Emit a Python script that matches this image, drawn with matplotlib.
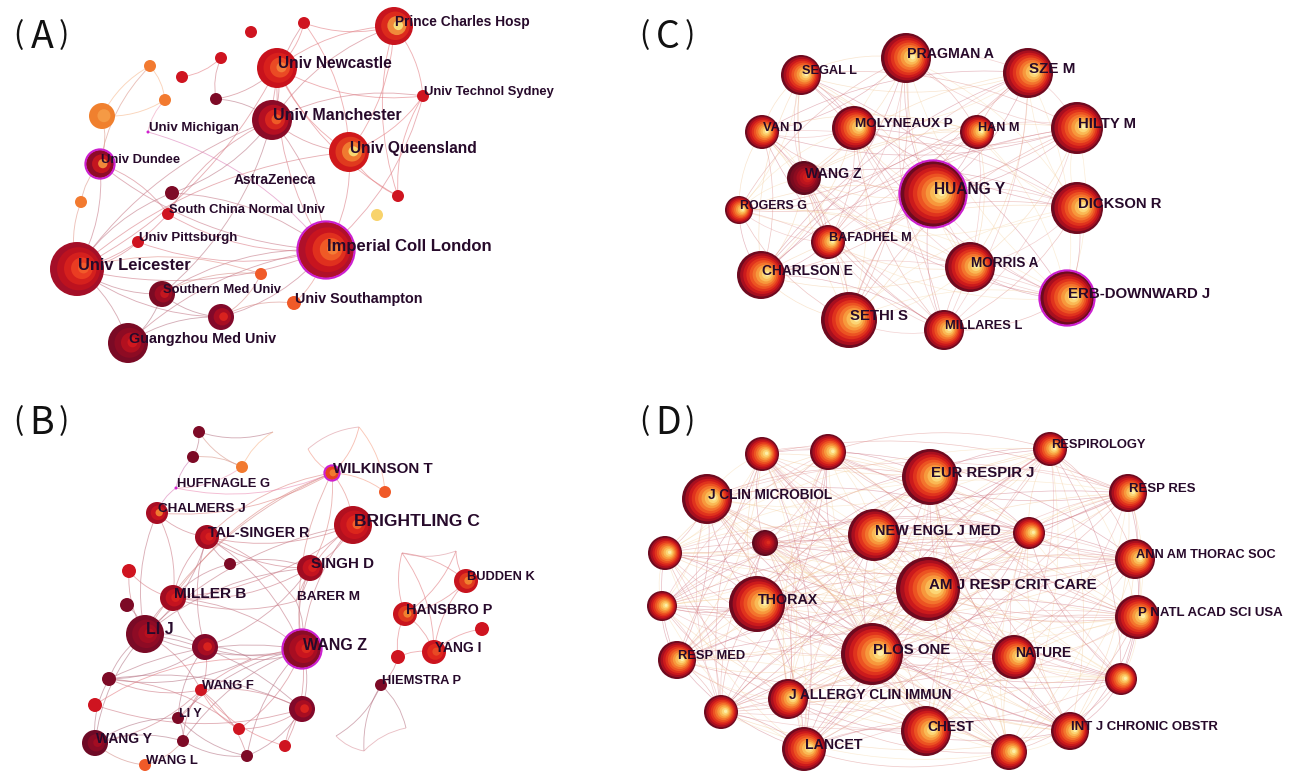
import numpy as np
import matplotlib.pyplot as plt
from matplotlib.patches import Circle, PathPatch
from matplotlib.path import Path
from matplotlib.colors import to_rgb

# ---------------- (A) institutions ----------------
a_names = ['Prince Charles Hosp', '', '', 'Univ Newcastle', '', '', '', '', '', '',
           'Univ Technol Sydney', 'Univ Manchester', 'Univ Michigan', 'Univ Queensland', 'Univ Dundee',
           'AstraZeneca', '', '', '', 'South China Normal Univ',
           '', 'Univ Pittsburgh', 'Imperial Coll London', 'Univ Leicester', '', 'Southern Med Univ',
           'Univ Southampton', '', 'Guangzhou Med Univ']
a_x = [394, 304, 251, 277, 221, 182, 150, 165, 102, 216, 423, 272, 148, 349, 100, 233, 172, 398, 81, 168,
       377, 138, 326, 77, 261, 162, 294, 221, 128]
a_y = [26, 23, 32, 68, 58, 77, 66, 100, 116, 99, 96, 120, 132, 152, 164, 184, 193, 196, 202, 214,
       215, 242, 250, 269, 274, 294, 303, 317, 343]
a_r = [19, 6, 6, 20, 6, 6, 6, 6, 13, 6, 6, 20, 1.5, 20, 14, 0, 7, 6, 6, 6,
       6, 6, 28, 27, 6, 13, 7, 13, 20]
a_fs = [9.9, 0, 0, 11.2, 0, 0, 0, 0, 0, 0, 9.4, 11.5, 9.5, 11.2, 9.4, 9.9, 0, 0, 0, 9.4,
        0, 9.5, 12.0, 11.9, 0, 9.4, 10.4, 0, 10.4]
a_kind = ['pch', 'r', 'r', 'ncl', 'r', 'r', 'o', 'o', 'ob', 'dk', 'r', 'man', 'mg', 'qld', 'dun', 'none',
          'dk', 'r', 'o', 'r', 'y', 'r', 'imp', 'lei', 'o2', 'smu', 'o2', 'dkb', 'gmu']
a_purple = ['Univ Dundee', 'Imperial Coll London']
a_edges = [(0, 1), (0, 3), (0, 10), (0, 11), (0, 13), (0, 17), (1, 3), (1, 11), (1, 13),
           (3, 10), (3, 11), (3, 13), (3, 9), (3, 22), (3, 23), (3, 17), (4, 5), (4, 9),
           (6, 7), (6, 8), (7, 8), (6, 14), (8, 14), (7, 12), (9, 11),
           (10, 11), (10, 13), (10, 17), (10, 22), (11, 13), (11, 22), (11, 23), (11, 16),
           (11, 19), (11, 25), (13, 17), (13, 22), (13, 23), (14, 23), (14, 18), (14, 19),
           (14, 22), (16, 22), (16, 23), (19, 23), (19, 22), (21, 23), (21, 22), (22, 23),
           (22, 25), (22, 26), (22, 28), (22, 27), (23, 25), (23, 28), (23, 27), (23, 18),
           (24, 25), (24, 27), (24, 23), (25, 28), (25, 27), (27, 26), (27, 28), (12, 22)]

# ---------------- (B) authors ----------------
b_names = ['', '', '', 'HUFFNAGLE G', 'WILKINSON T', '', 'CHALMERS J', 'BRIGHTLING C', 'TAL-SINGER R', '',
           'SINGH D', '', 'BUDDEN K', 'MILLER B', 'BARER M', '', 'HANSBRO P', '', 'LI J', '',
           'WANG Z', 'YANG I', '', '', 'HIEMSTRA P', 'WANG F', '', '', 'LI Y', '',
           'WANG Y', '', '', '', 'WANG L', '', '', '', '', '',
           '', '', '', '']
b_x = [199, 193, 242, 176, 332, 385, 157, 353, 207, 230, 310, 129, 466, 173, 296, 127, 405, 482, 145, 205,
       302, 434, 398, 109, 381, 201, 95, 302, 178, 239, 95, 183, 285, 247, 145, 273, 359, 308, 456, 402,
       336, 364, 406, 251]
b_y = [432, 457, 467, 488, 473, 492, 513, 525, 537, 564, 568, 571, 581, 598, 601, 605, 614, 629, 634, 647,
       649, 652, 657, 679, 685, 690, 705, 709, 718, 729, 743, 741, 746, 756, 765, 432, 427, 449, 551, 553,
       736, 751, 728, 659]
b_r = [6, 6, 6, 1.5, 7, 6, 11, 19, 12, 6, 13, 7, 12, 13, 0, 7, 12, 7, 19, 13,
       19, 12, 7, 7, 6, 6, 7, 13, 6, 6, 13, 6, 6, 6, 6, 0, 0, 0, 0, 0,
       0, 0, 0, 0]
b_fs = [0, 0, 0, 9.3, 10.9, 0, 9.7, 12.6, 10.4, 0, 10.9, 0, 9.3, 11.1, 9.7, 0, 10.4, 0, 11.5, 0,
        11.5, 10.0, 0, 0, 9.3, 9.4, 0, 0, 9.0, 0, 10.0, 0, 0, 0, 9.4, 0, 0, 0, 0, 0,
        0, 0, 0, 0]
b_kind = ['dk', 'dk', 'o', 'mg', 'wk', 'o2', 'chl', 'brc', 'dr', 'dk', 'dr', 'r', 'hns', 'dr', 'none', 'dk',
          'hns', 'r', 'lij', 'dkb', 'wz', 'yng', 'r', 'dk', 'dk', 'r', 'r', 'dkb', 'dk', 'r',
          'wy', 'dk', 'r', 'dk', 'o2', 'none', 'none', 'none', 'none', 'none', 'none', 'none', 'none', 'none']
b_purple = ['WILKINSON T', 'WANG Z']
b_edges = [(0, 1), (0, 2), (1, 2), (0, 35), (2, 35), (1, 3), (2, 3),
           (4, 36), (4, 37), (36, 37), (4, 5), (5, 36), (4, 7), (4, 8), (4, 10), (4, 20), (4, 6), (4, 13),
           (4, 3), (4, 18), (7, 10), (7, 20), (7, 8), (7, 14), (7, 13), (7, 18),
           (8, 6), (8, 13), (8, 18), (8, 10), (8, 20), (8, 9), (8, 14), (8, 19), (6, 13), (6, 18), (6, 3),
           (10, 20), (10, 13), (10, 18), (10, 14), (10, 9), (10, 19),
           (13, 18), (13, 20), (13, 14), (13, 11), (13, 19), (13, 9), (11, 18), (15, 18),
           (18, 20), (18, 19), (18, 23), (18, 25), (18, 30), (18, 27),
           (20, 14), (20, 19), (20, 25), (20, 27), (20, 28), (20, 29), (20, 31), (20, 32), (20, 33),
           (20, 43), (20, 23), (19, 25), (19, 28), (19, 43), (23, 25), (23, 27), (23, 43), (23, 29),
           (23, 19), (25, 28), (25, 31), (25, 33), (25, 29), (25, 27), (25, 32), (25, 30),
           (26, 27), (26, 43), (28, 30), (28, 31), (28, 33), (30, 31), (30, 34), (30, 23),
           (31, 33), (31, 34), (33, 27), (32, 27), (29, 27),
           (12, 16), (12, 21), (12, 38), (12, 39), (16, 21), (16, 38), (16, 39), (16, 22), (21, 17),
           (21, 22), (38, 39), (21, 39), (24, 40), (24, 41), (24, 42), (40, 41), (41, 42), (24, 22)]

# ---------------- (C) co-cited authors ----------------
c_names = ['PRAGMAN A', 'SZE M', 'SEGAL L', 'VAN D', 'MOLYNEAUX P', 'HAN M', 'HILTY M', 'WANG Z',
           'HUANG Y', 'DICKSON R', 'ROGERS G', 'BAFADHEL M', 'MORRIS A', 'CHARLSON E',
           'ERB-DOWNWARD J', 'SETHI S', 'MILLARES L']
c_x = [906, 1028, 801, 762, 854, 977, 1077, 804, 933, 1077, 739, 828, 970, 761, 1067, 849, 944]
c_y = [58, 73, 75, 132, 128, 132, 128, 178, 194, 208, 210, 242, 267, 275, 298, 320, 330]
c_r = [25, 25, 20, 17, 22, 17, 26, 17, 33, 26, 14, 17, 25, 24, 27, 28, 20]
c_fs = [10.2, 10.9, 9.2, 9.4, 9.7, 9.1, 10.7, 10.2, 11.2, 10.7, 8.9, 9.1, 9.8, 9.9, 10.8, 10.7, 9.3]
c_kind = ['g', 'g', 'g', 'g', 'g', 'g', 'g', 'gd', 'g', 'g', 'g', 'g', 'g', 'g', 'g', 'g', 'g']
c_purple = ['HUANG Y', 'ERB-DOWNWARD J']

# ---------------- (D) co-cited journals ----------------
d_names = ['', '', 'RESPIROLOGY', 'EUR RESPIR J', 'J CLIN MICROBIOL', 'RESP RES', 'NEW ENGL J MED', '', '',
           '', 'ANN AM THORAC SOC', 'AM J RESP CRIT CARE', 'THORAX', '', 'P NATL ACAD SCI USA',
           'PLOS ONE', 'NATURE', 'RESP MED', '', 'J ALLERGY CLIN IMMUN', '', 'CHEST',
           'INT J CHRONIC OBSTR', 'LANCET', '']
d_x = [762, 828, 1050, 930, 707, 1128, 874, 1029, 765, 665, 1135, 928, 757, 662, 1137, 872, 1014, 677,
       1121, 788, 721, 926, 1070, 804, 1009]
d_y = [454, 452, 449, 477, 499, 493, 535, 533, 543, 553, 559, 589, 604, 606, 617, 654, 657, 660,
       679, 699, 712, 731, 731, 749, 752]
d_r = [17, 18, 17, 28, 25, 19, 26, 16, 13, 17, 20, 32, 28, 15, 22, 31, 22, 19, 16, 20, 17, 25, 19, 22, 18]
d_fs = [0, 0, 9.3, 10.7, 9.8, 9.5, 10.4, 0, 0, 0, 9.2, 10.9, 10.3, 0, 9.5, 10.8, 9.9, 9.3, 0, 9.9,
        0, 10.0, 9.5, 10.2, 0]
d_kind = ['g', 'g', 'g', 'g', 'g', 'g', 'g', 'g', 'gd', 'g', 'g', 'g', 'g', 'g', 'g', 'g', 'g', 'g',
          'g', 'g', 'g', 'g', 'g', 'g', 'g']
d_purple = []

RINGS = {
    'r': ['#cf1420'], 'o': ['#f27a30'], 'o2': ['#f05a28'], 'y': ['#f8d36c'], 'dk': ['#7d0a26'],
    'mg': ['#d020d0'], 'none': [],
    'ob': ['#f0802e', '#f59a45'],
    'pch': ['#c8141e', '#dc2a1c', '#f08a3a', '#f8dc78'],
    'ncl': ['#c8121c', '#d8201c', '#ea4a24', '#f27a38'],
    'man': ['#8a0b27', '#b50f22', '#d8261e', '#ee5a26'],
    'qld': ['#d0181b', '#e03a1e', '#f07a30', '#f8d870'],
    'dun': ['#8e0b28', '#c4151f', '#f08a3a'],
    'imp': ['#b0102a', '#c8141f', '#e0301e', '#ef5a26', '#f47c36'],
    'lei': ['#a40f28', '#bd121f', '#d5201d', '#ea3c22', '#f25a2a'],
    'smu': ['#7c0b24', '#9e0c22', '#c4171f'],
    'dkb': ['#82092a', '#a80d22', '#d8221e'],
    'gmu': ['#7a0a25', '#8e0b23', '#b2101f', '#d0181e'],
    'wk': ['#e8401e', '#f07a30'],
    'chl': ['#a80d24', '#c8141f', '#f07a30'],
    'brc': ['#b2101f', '#c8141e', '#dc261c', '#f0602a'],
    'dr': ['#a00c22', '#c4131f', '#d8201e'],
    'hns': ['#c8141e', '#e03a1e', '#f0802e'],
    'lij': ['#7a0a26', '#8e0b25', '#a30d22', '#b8101f'],
    'wz': ['#8a0b27', '#a80d22', '#c8141f', '#dc2a1e'],
    'yng': ['#cc141e', '#e0281c', '#e84a24'],
    'wy': ['#6e0a26', '#8a0b25', '#a30d22'],
    'g': ['#6e0a1f', '#a80f1f', '#cc1a1c', '#e0331d', '#ec5322', '#f3742d', '#f7983c', '#fab955',
          '#fcd676', '#fdeea6'],
    'gd': ['#5e0a1e', '#7a0b20', '#8e0c20', '#a80f1f', '#bc141e', '#cc1c1c', '#dc2c1e'],
}

LABEL_FONT = ['Liberation Sans', 'DejaVu Sans']
TXT = '#270a2b'


def curve(ax, p, q, rad, color, lw, alpha):
    (x1, y1), (x2, y2) = p, q
    mx, my = (x1 + x2) / 2, (y1 + y2) / 2
    cx, cy = mx - rad * (y2 - y1), my + rad * (x2 - x1)
    path = Path([(x1, y1), (cx, cy), (x2, y2)], [Path.MOVETO, Path.CURVE3, Path.CURVE3])
    ax.add_patch(PathPatch(path, fc='none', ec=color, lw=lw, alpha=alpha, zorder=1))


def draw_panel(ax, names, xs, ys, rs, fss, kinds, edges, purple, dense=False):
    # links
    soft = ['#e39a9a', '#f2c594', '#c96878', '#f6d7a8', '#d9807f']
    for k, (i, j) in enumerate(edges):
        rad = 0.16 if k % 2 else -0.16
        if dense:
            curve(ax, (xs[i], ys[i]), (xs[j], ys[j]), rad, soft[k % len(soft)], 0.5, 0.45)
        else:
            ci, cj = RINGS[kinds[i]], RINGS[kinds[j]]
            cols = [to_rgb(c[0]) for c in (ci, cj) if c]
            base = np.mean(cols, axis=0) if cols else np.array(to_rgb('#c04050'))
            col = 0.55 * base + 0.45 * np.ones(3)
            curve(ax, (xs[i], ys[i]), (xs[j], ys[j]), rad, col, 0.65, 0.6)
    # nodes (tree rings, outer = oldest)
    for name, x, y, r, fs, kind in zip(names, xs, ys, rs, fss, kinds):
        rings = RINGS[kind]
        n = len(rings)
        for i, c in enumerate(rings):
            ri = r * (1 - i / n) if n > 1 else r
            off = (r - ri) * 0.3
            ax.add_patch(Circle((x + off, y - off * 0.15), ri, fc=c, ec='none', zorder=3))
        if name and name in purple:
            ax.add_patch(Circle((x, y), r + 0.6, fc='none', ec='#cc1fd0', lw=1.5, zorder=3))
        if name:
            ax.text(x + 1, y - 4, name, fontsize=fs, fontweight='bold', color=TXT,
                    family=LABEL_FONT, va='center', ha='left', zorder=5)


fig = plt.figure(figsize=(13.01, 7.72), dpi=100)
ax = fig.add_axes([0, 0, 1, 1])
ax.set_xlim(0, 1301)
ax.set_ylim(772, 0)
ax.axis('off')

c_edges = [(i, j) for i in range(len(c_names)) for j in range(i + 1, len(c_names))]
d_edges = [(i, j) for i in range(len(d_names)) for j in range(i + 1, len(d_names))]

draw_panel(ax, a_names, a_x, a_y, a_r, a_fs, a_kind, a_edges, a_purple)
draw_panel(ax, b_names, b_x, b_y, b_r, b_fs, b_kind, b_edges, b_purple)
draw_panel(ax, c_names, c_x, c_y, c_r, c_fs, c_kind, c_edges, c_purple, dense=True)
draw_panel(ax, d_names, d_x, d_y, d_r, d_fs, d_kind, d_edges, d_purple, dense=True)

# panel letters: "(", letter, ")" set apart like full-width brackets
cjk = ['Noto Sans CJK SC', 'DejaVu Sans']
for lab, px, py in [('A', 0, 36), ('B', 0, 422), ('C', 626, 36), ('D', 626, 422)]:
    ax.text(px + 18, py, '(', fontsize=22, color='#111111', family=cjk, va='center', ha='center')
    ax.text(px + 42, py + 1, lab, fontsize=27, color='#111111', family=cjk, va='center', ha='center')
    ax.text(px + 64, py, ')', fontsize=22, color='#111111', family=cjk, va='center', ha='center')

fig.savefig('out.png', dpi=100)
